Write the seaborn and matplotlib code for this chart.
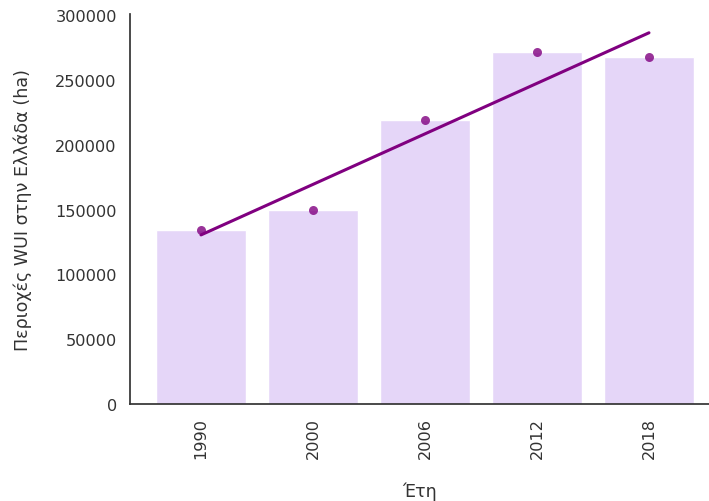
import matplotlib
matplotlib.use("Agg")
import matplotlib.pyplot as plt
import seaborn as sns
import numpy as np
import pandas as pd

# WUI area in Greece per reference year (hectares)
years = ["1990", "2000", "2006", "2012", "2018"]
wui_area = [134000, 149500, 219500, 271500, 268000]

sns.set_theme(style="white", context="notebook",
              rc={"text.color": "#333333", "axes.labelcolor": "#333333",
                  "xtick.color": "#333333", "ytick.color": "#333333",
                  "axes.edgecolor": "#333333"})
plt.rcParams["font.family"] = ["DejaVu Sans"]

df = pd.DataFrame({"year": years, "area": wui_area})
df["pos"] = np.arange(len(years))

fig = plt.figure(figsize=(7.09, 5.02), dpi=100)
ax = fig.add_axes([130 / 709, 97 / 502, 579 / 709, 390 / 502])

sns.barplot(data=df, x="year", y="area", color="#E5D6F8", saturation=1,
            width=0.8, ax=ax)
sns.regplot(data=df, x="pos", y="area", ci=None, color="purple",
            scatter_kws={"s": 42, "alpha": 0.8, "linewidths": 0, "zorder": 3},
            line_kws={"lw": 2.2}, ax=ax)

ax.set_xlim(-0.634, 4.536)
ax.set_ylim(0, 301000)
ax.set_xticks(range(len(years)))
ax.set_xticklabels(years, rotation=90)
ax.tick_params(axis="both", labelsize=11.6)
ax.set_xlabel("Έτη", fontsize=12.6, labelpad=17)
ax.set_ylabel("Περιοχές WUI στην Ελλάδα (ha)", fontsize=12.6, labelpad=17)
sns.despine(ax=ax)

fig.savefig("out.png", dpi=100)
